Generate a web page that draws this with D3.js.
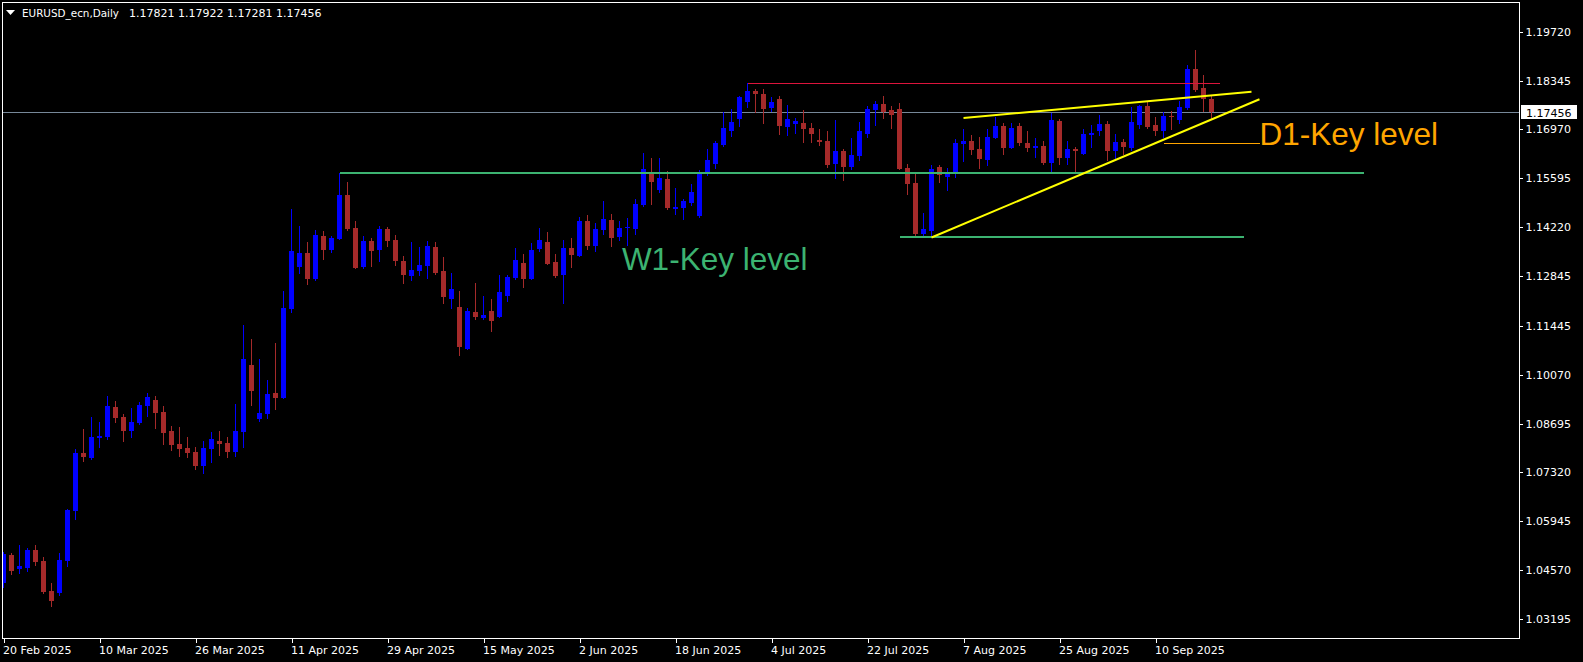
<!DOCTYPE html>
<html><head><meta charset="utf-8">
<script src="https://cdn.jsdelivr.net/npm/d3@7"></script>
<style>html,body{margin:0;padding:0;background:#000;overflow:hidden}</style>
</head><body>
<svg id="chart" width="1583" height="662"></svg>
<script>
const symbolName = "EURUSD_ecn,Daily";
const opens = [1.0421,1.0500,1.0460,1.0463,1.0514,1.0483,1.0398,1.0393,1.0483,1.0623,
1.0787,1.0772,1.0829,1.0832,1.0916,1.0888,1.0849,1.0871,1.0919,1.0936,
1.0902,1.0849,1.0812,1.0801,1.0789,1.0751,1.0798,1.0820,1.0815,1.0789,
1.0846,1.1034,1.0882,1.0896,1.0955,1.0941,1.1192,1.1310,1.1349,1.1276,
1.1397,1.1358,1.1389,1.1513,1.1420,1.1310,1.1383,1.1358,1.1417,1.1386,
1.1327,1.1285,1.1299,1.1313,1.1366,1.1299,1.1221,1.1197,1.1079,1.1183,
1.1166,1.1186,1.1169,1.1228,1.1279,1.1321,1.1276,1.1361,1.1380,1.1324,
1.1287,1.1363,1.1341,1.1439,1.1369,1.1414,1.1442,1.1394,1.1420,1.1417,
1.1484,1.1572,1.1527,1.1558,1.1473,1.1476,1.1490,1.1454,1.1577,1.1600,
1.1653,1.1693,1.1726,1.1774,1.1805,1.1797,1.1757,1.1783,1.1704,1.1712,
1.1715,1.1701,1.1667,1.1664,1.1600,1.1636,1.1591,1.1622,1.1684,1.1752,
1.1769,1.1752,1.1755,1.1588,1.1546,1.1403,1.1411,1.1591,1.1563,1.1577,
1.1657,1.1664,1.1642,1.1611,1.1673,1.1707,1.1645,1.1707,1.1659,1.1646,
1.1650,1.1603,1.1721,1.1617,1.1642,1.1628,1.1681,1.1693,1.1712,1.1636,
1.1662,1.1645,1.1710,1.1763,1.1710,1.1693,1.1735,1.1724,1.1757,1.1867,
1.1814,1.17821];
const highs = [1.0508,1.0505,1.0528,1.0519,1.0528,1.0494,1.0421,1.0505,1.0629,1.0798,
1.0854,1.0888,1.0874,1.0947,1.0933,1.0896,1.0913,1.0930,1.0955,1.0947,
1.0919,1.0862,1.0860,1.0832,1.0803,1.0820,1.0846,1.0849,1.0832,1.0924,
1.1147,1.1107,1.1051,1.0992,1.1096,1.1242,1.1473,1.1425,1.1380,1.1414,
1.1411,1.1397,1.1574,1.1549,1.1439,1.1397,1.1392,1.1425,1.1422,1.1400,
1.1341,1.1380,1.1366,1.1383,1.1380,1.1338,1.1293,1.1242,1.1195,1.1265,
1.1228,1.1220,1.1287,1.1287,1.1363,1.1347,1.1378,1.1420,1.1409,1.1347,
1.1386,1.1392,1.1451,1.1456,1.1434,1.1496,1.1459,1.1439,1.1448,1.1501,
1.1631,1.1617,1.1617,1.1580,1.1532,1.1501,1.1543,1.1583,1.1642,1.1664,
1.1746,1.1755,1.1790,1.1829,1.1811,1.1811,1.1788,1.1791,1.1766,1.1729,
1.1752,1.1715,1.1698,1.1693,1.1724,1.1642,1.1673,1.1718,1.1763,1.1777,
1.1791,1.1763,1.1771,1.1600,1.1572,1.1462,1.1597,1.1597,1.1588,1.1670,
1.1698,1.1681,1.1676,1.1698,1.1732,1.1715,1.1715,1.1715,1.1693,1.1673,
1.1664,1.1743,1.1726,1.1664,1.1648,1.1698,1.1710,1.1738,1.1721,1.1684,
1.1670,1.1760,1.1766,1.1774,1.1732,1.1746,1.1749,1.1777,1.1878,1.1921,
1.1850,1.17922];
const lows = [1.0410,1.0446,1.0449,1.0455,1.0472,1.0393,1.0356,1.0387,1.0469,1.0601,
1.0764,1.0771,1.0803,1.0826,1.0874,1.0820,1.0832,1.0868,1.0891,1.0857,
1.0812,1.0795,1.0778,1.0775,1.0742,1.0730,1.0761,1.0781,1.0775,1.0778,
1.0803,1.0922,1.0877,1.0885,1.0910,1.0940,1.1183,1.1293,1.1262,1.1273,
1.1332,1.1352,1.1388,1.1414,1.1306,1.1306,1.1313,1.1327,1.1369,1.1316,
1.1265,1.1273,1.1287,1.1279,1.1290,1.1209,1.1195,1.1062,1.1078,1.1164,
1.1165,1.1130,1.1168,1.1214,1.1276,1.1254,1.1275,1.1355,1.1318,1.1282,
1.1209,1.1310,1.1340,1.1361,1.1355,1.1403,1.1369,1.1386,1.1372,1.1403,
1.1482,1.1487,1.1521,1.1473,1.1459,1.1445,1.1484,1.1451,1.1569,1.1588,
1.1650,1.1679,1.1707,1.1760,1.1746,1.1715,1.1749,1.1684,1.1681,1.1687,
1.1662,1.1662,1.1653,1.1591,1.1560,1.1555,1.1586,1.1611,1.1676,1.1710,
1.1729,1.1701,1.1585,1.1515,1.1400,1.1400,1.1393,1.1549,1.1527,1.1563,
1.1608,1.1628,1.1588,1.1597,1.1672,1.1628,1.1644,1.1653,1.1636,1.1619,
1.1600,1.1580,1.1600,1.1600,1.1577,1.1627,1.1648,1.1681,1.1611,1.1617,
1.1628,1.1639,1.1701,1.1701,1.1681,1.1676,1.1698,1.1715,1.1755,1.1805,
1.1749,1.17281];
const closes = [1.0502,1.0455,1.0469,1.0514,1.0480,1.0396,1.0370,1.0486,1.0626,1.0787,
1.0775,1.0832,1.0834,1.0919,1.0885,1.0849,1.0874,1.0922,1.0944,1.0899,
1.0843,1.0809,1.0798,1.0787,1.0750,1.0801,1.0826,1.0812,1.0789,1.0849,
1.1051,1.0961,1.0899,1.0953,1.0941,1.1195,1.1355,1.1349,1.1276,1.1400,
1.1358,1.1392,1.1513,1.1417,1.1307,1.1383,1.1355,1.1417,1.1383,1.1327,
1.1287,1.1302,1.1316,1.1369,1.1293,1.1226,1.1248,1.1085,1.1186,1.1169,
1.1175,1.1158,1.1240,1.1282,1.1330,1.1276,1.1358,1.1386,1.1319,1.1285,
1.1363,1.1344,1.1439,1.1369,1.1417,1.1445,1.1392,1.1420,1.1422,1.1487,
1.1586,1.1549,1.1560,1.1476,1.1479,1.1496,1.1521,1.1572,1.1611,1.1659,
1.1701,1.1718,1.1788,1.1805,1.1797,1.1755,1.1774,1.1707,1.1726,1.1721,
1.1698,1.1684,1.1662,1.1597,1.1636,1.1591,1.1625,1.1693,1.1755,1.1769,
1.1746,1.1738,1.1586,1.1543,1.1403,1.1417,1.1586,1.1569,1.1574,1.1659,
1.1664,1.1639,1.1614,1.1676,1.1707,1.1645,1.1701,1.1659,1.1645,1.1650,
1.1603,1.1724,1.1617,1.1642,1.1636,1.1684,1.1687,1.1712,1.1636,1.1662,
1.1648,1.1718,1.1763,1.1704,1.1693,1.1735,1.1732,1.1760,1.1867,1.1808,
1.1783,1.17456];

const yTickValues = [1.19720,1.18345,1.16970,1.15595,1.14220,1.12845,1.11445,1.10070,1.08695,1.07320,1.05945,1.04570,1.03195];
const xTickLabels = ["20 Feb 2025","10 Mar 2025","26 Mar 2025","11 Apr 2025","29 Apr 2025","15 May 2025","2 Jun 2025","18 Jun 2025","4 Jul 2025","22 Jul 2025","7 Aug 2025","25 Aug 2025","10 Sep 2025"];

// horizontal level lines (bar index from/to, price)
const levelFrom  = [42, 112, 93, 145];
const levelTo    = [170, 155, 152, 157];
const levelPrice = [1.1574, 1.1393, 1.1829, 1.1658];
// trend lines (bar index, price)
const trendFrom      = [120, 116];
const trendFromPrice = [1.1729, 1.1393];
const trendTo        = [156, 157];
const trendToPrice   = [1.1803, 1.1782];
// text labels
const labelTexts = ["W1-Key level", "D1-Key level"];
const labelIdx   = [77.3, 157];
const labelPrice = [1.1302, 1.1653];

// styles
const levelColors = ["#3cb371", "#3cb371", "#dc143c", "#ffa500"];
const levelWidths = [2, 2, 1, 1];
const labelColors = ["#3cb371", "#ffa500"];
const bullColor = "#0000ff", bearColor = "#a52a2a";

// trading-day calendar
const dates = [];
{ let d = new Date(Date.UTC(2025,1,20));
  while (dates.length < 200) { const w = d.getUTCDay(); if (w !== 0 && w !== 6) dates.push(new Date(d)); d = new Date(d.getTime() + 86400000); } }
const fmtDate = d3.utcFormat("%-d %b %Y");
const xTickIdx = xTickLabels.map(l => dates.findIndex(d => fmtDate(d) === l));

const svg = d3.select("#chart");
const W = 1583, H = 662;
const plot = {l: 2.5, t: 2.5, r: 1519.5, b: 638.5};
svg.append("rect").attr("width", W).attr("height", H).attr("fill", "#000");

const xs = d3.scaleLinear().domain([0, 189]).range([3.5, 3.5 + 8 * 189]);
const ys = d3.scaleLinear().domain([1.03195, 1.19720]).range([619, 31.7]);
const px = v => Math.round(v);

svg.append("clipPath").attr("id", "clip").append("rect")
  .attr("x", 3).attr("y", 3).attr("width", 1516).attr("height", 635);
const g = svg.append("g").attr("clip-path", "url(#clip)").attr("shape-rendering", "crispEdges");

// bid line
const lastClose = closes[closes.length - 1];
g.append("line").attr("x1", plot.l).attr("x2", plot.r)
  .attr("y1", px(ys(lastClose)) + 0.5).attr("y2", px(ys(lastClose)) + 0.5)
  .attr("stroke", "#778899").attr("stroke-width", 1);

// candles
const idx = d3.range(opens.length);
const cg = g.append("g");
idx.forEach(i => {
  const o = opens[i], h = highs[i], l = lows[i], c = closes[i];
  const col = c >= o ? bullColor : bearColor;
  const cx = Math.floor(xs(i));
  cg.append("line").attr("x1", cx + 0.5).attr("x2", cx + 0.5)
    .attr("y1", px(ys(h))).attr("y2", px(ys(l)) + 1).attr("stroke", col).attr("stroke-width", 1);
  const y1 = px(ys(Math.max(o, c))), y2 = px(ys(Math.min(o, c)));
  cg.append("rect").attr("x", cx - 2).attr("width", 5)
    .attr("y", y1).attr("height", Math.max(1, y2 - y1)).attr("fill", col);
});

// level lines
levelPrice.forEach((p, k) => {
  const w = levelWidths[k];
  const yy = px(ys(p)) + (w % 2 ? 0.5 : 0);
  g.append("line").attr("x1", xs(levelFrom[k])).attr("x2", xs(levelTo[k]))
    .attr("y1", yy).attr("y2", yy)
    .attr("stroke", levelColors[k]).attr("stroke-width", w);
});

// trend lines
const tg = svg.append("g").attr("clip-path", "url(#clip)");
trendFrom.forEach((f, k) => {
  tg.append("line").attr("x1", xs(f)).attr("y1", ys(trendFromPrice[k]))
    .attr("x2", xs(trendTo[k])).attr("y2", ys(trendToPrice[k]))
    .attr("stroke", "#ffff00").attr("stroke-width", 2);
});

// text labels
labelTexts.forEach((t, k) => {
  svg.append("text").attr("x", xs(labelIdx[k])).attr("y", ys(labelPrice[k]))
    .attr("fill", labelColors[k]).attr("font-family", "'Liberation Sans', Arial, sans-serif")
    .attr("font-size", 31.5).text(t);
});

// border
svg.append("rect").attr("x", plot.l).attr("y", plot.t)
  .attr("width", plot.r - plot.l).attr("height", plot.b - plot.t)
  .attr("fill", "none").attr("stroke", "#fff").attr("stroke-width", 1)
  .attr("shape-rendering", "crispEdges");

const font = "'DejaVu Sans', sans-serif";
// y axis
const yAxis = svg.append("g").attr("transform", `translate(${plot.r},0)`)
  .call(d3.axisRight(ys).tickValues(yTickValues).tickFormat(d3.format(".5f")).tickSize(3).tickPadding(3));
yAxis.select(".domain").remove();
yAxis.selectAll(".tick line").attr("stroke", "#fff").attr("shape-rendering", "crispEdges");
yAxis.selectAll(".tick text").attr("fill", "#fff").attr("font-family", font).attr("font-size", 11);

// bid price label
const by = px(ys(lastClose));
svg.append("rect").attr("x", 1521).attr("y", by - 7).attr("width", 56).attr("height", 14).attr("fill", "#fff");
svg.append("text").attr("x", 1526).attr("y", by + 4.5).attr("fill", "#000")
  .attr("font-family", font).attr("font-size", 11).text(d3.format(".5f")(lastClose));

// x axis
const xAxis = svg.append("g").attr("transform", `translate(0,${plot.b})`)
  .call(d3.axisBottom(xs).tickValues(xTickIdx).tickFormat((d, i) => xTickLabels[i]).tickSize(4));
xAxis.select(".domain").remove();
xAxis.selectAll(".tick line").attr("stroke", "#fff").attr("shape-rendering", "crispEdges");
xAxis.selectAll(".tick text").attr("fill", "#fff").attr("font-family", font).attr("font-size", 11)
  .attr("text-anchor", "start").attr("x", -1).attr("y", 15.5).attr("dy", null);

// header
svg.append("path").attr("d", "M6,10 L15,10 L10.5,15 Z").attr("fill", "#fff");
const n = opens.length - 1;
const f5 = d3.format(".5f");
svg.append("text").attr("x", 22).attr("y", 17).attr("fill", "#fff").attr("font-family", font).attr("font-size", 11)
  .attr("textLength", 97).attr("lengthAdjust", "spacingAndGlyphs")
  .text(symbolName);
svg.append("text").attr("x", 129).attr("y", 17).attr("fill", "#fff").attr("font-family", font).attr("font-size", 11)
  .attr("xml:space", "preserve")
  .text([opens[n], highs[n], lows[n], closes[n]].map(f5).join(" "));
</script>
</body></html>
